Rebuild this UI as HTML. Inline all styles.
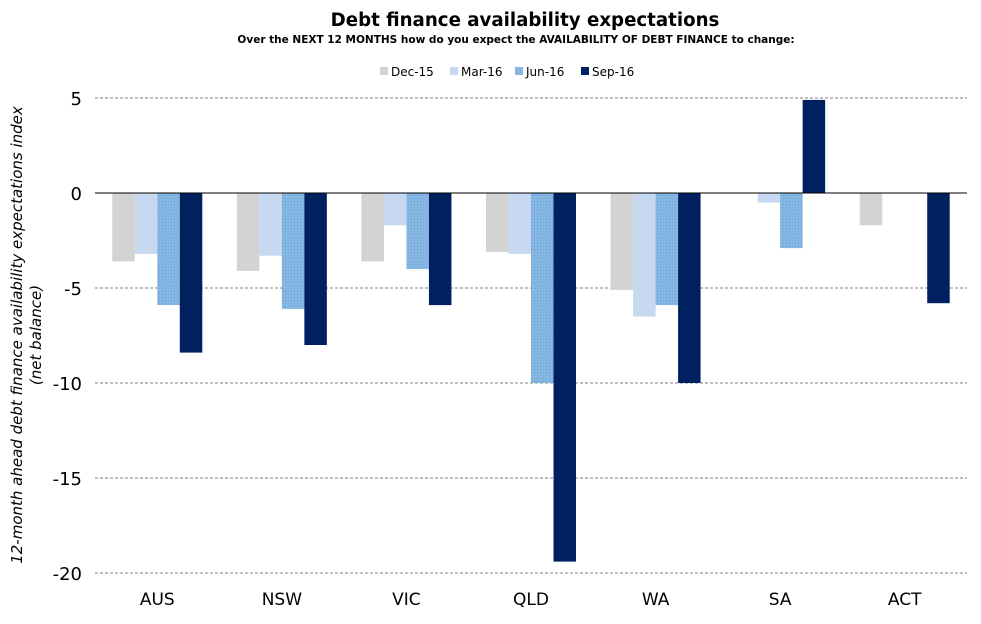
<!DOCTYPE html>
<html><head><meta charset="utf-8"><style>
body{margin:0;background:#fff;}
svg text{font-family:"DejaVu Sans","Liberation Sans",sans-serif;}
</style></head><body>
<svg id="chart" width="981" height="619" xmlns="http://www.w3.org/2000/svg">
<defs>
<pattern id="hatch" width="3" height="3" patternUnits="userSpaceOnUse">
<rect width="3" height="3" fill="#86b6e2"/><rect width="1" height="1" fill="#6fa3d6"/>
</pattern>
</defs>
<text x="525" y="26" text-anchor="middle" font-size="18.2" font-weight="bold">Debt finance availability expectations</text>
<text x="516" y="43" text-anchor="middle" font-size="10.5" font-weight="bold">Over the NEXT 12 MONTHS how do you expect the AVAILABILITY OF DEBT FINANCE to change:</text>
<g id="legend"></g>
<g id="grid"></g>
<g id="bars"></g>
<g id="axes"></g>
<text transform="translate(22,335) rotate(-90)" text-anchor="middle" font-size="15" font-style="italic">12-month ahead debt finance availability expectations index</text>
<text transform="translate(41,335) rotate(-90)" text-anchor="middle" font-size="15" font-style="italic">(net balance)</text>
</svg>
<script>
const categories=["AUS","NSW","VIC","QLD","WA","SA","ACT"];
const seriesNames=["Dec-15","Mar-16","Jun-16","Sep-16"];
const dec15=[-3.6,-4.1,-3.6,-3.1,-5.1,0,-1.7];
const mar16=[-3.2,-3.3,-1.7,-3.2,-6.5,-0.5,0];
const jun16=[-5.9,-6.1,-4.0,-10.0,-5.9,-2.9,0];
const sep16=[-8.4,-8.0,-5.9,-19.4,-10.0,4.9,-5.8];
const yTicks=[5,0,-5,-10,-15,-20];
const ns="http://www.w3.org/2000/svg";
const colors=["#d3d3d3","#c6d9f1","url(#hatch)","#002060"];
const legendColors=["#d3d3d3","#c6d9f1","#86b6e2","#002060"];
const series=[dec15,mar16,jun16,sep16];
const x0=95,x1=967,yTop=98,yBot=573,vMax=5,vMin=-20;
const y=v=>yTop+(vMax-v)/(vMax-vMin)*(yBot-yTop);
const band=(x1-x0)/categories.length;
const bw=22.5;
function mk(tag,attrs,parent){const e=document.createElementNS(ns,tag);for(const k in attrs)e.setAttribute(k,attrs[k]);parent.appendChild(e);return e;}
const grid=document.getElementById('grid'),bars=document.getElementById('bars'),axes=document.getElementById('axes'),legend=document.getElementById('legend');
yTicks.forEach(t=>{
  if(t!==0){const l=mk('line',{x1:x0,x2:x1,y1:y(t),y2:y(t),stroke:'#808080','stroke-dasharray':'3,2','stroke-width':1},grid);
  
  }
  const tx=mk('text',{x:82,y:y(t)+7,'text-anchor':'end','font-size':18},axes);tx.textContent=t;
  
  
});
categories.forEach((c,i)=>{
  const cx=x0+band*(i+0.5);
  series.forEach((s,j)=>{
    const v=s[i];if(v===0)return;
    const bx=cx-2*bw+j*bw;
    const r=mk('rect',{x:bx,y:Math.min(y(v),y(0)),width:bw,height:Math.abs(y(v)-y(0)),fill:colors[j]},bars);
    
    
  });
  const tx=mk('text',{x:cx,y:605,'text-anchor':'middle','font-size':17},axes);tx.textContent=c;
  
  
});
const zl=mk('line',{x1:x0,x2:x1,y1:y(0),y2:y(0),stroke:'#000','stroke-width':1},axes);


const lx=[380,450,515,581];
seriesNames.forEach((n,j)=>{
  const g=mk('g',{},legend);
  
  
  mk('rect',{x:lx[j],y:67,width:8,height:8,fill:legendColors[j]},g);
  const t=mk('text',{x:lx[j]+11,y:76,'font-size':12},g);t.textContent=n;
});
</script>
</body></html>
